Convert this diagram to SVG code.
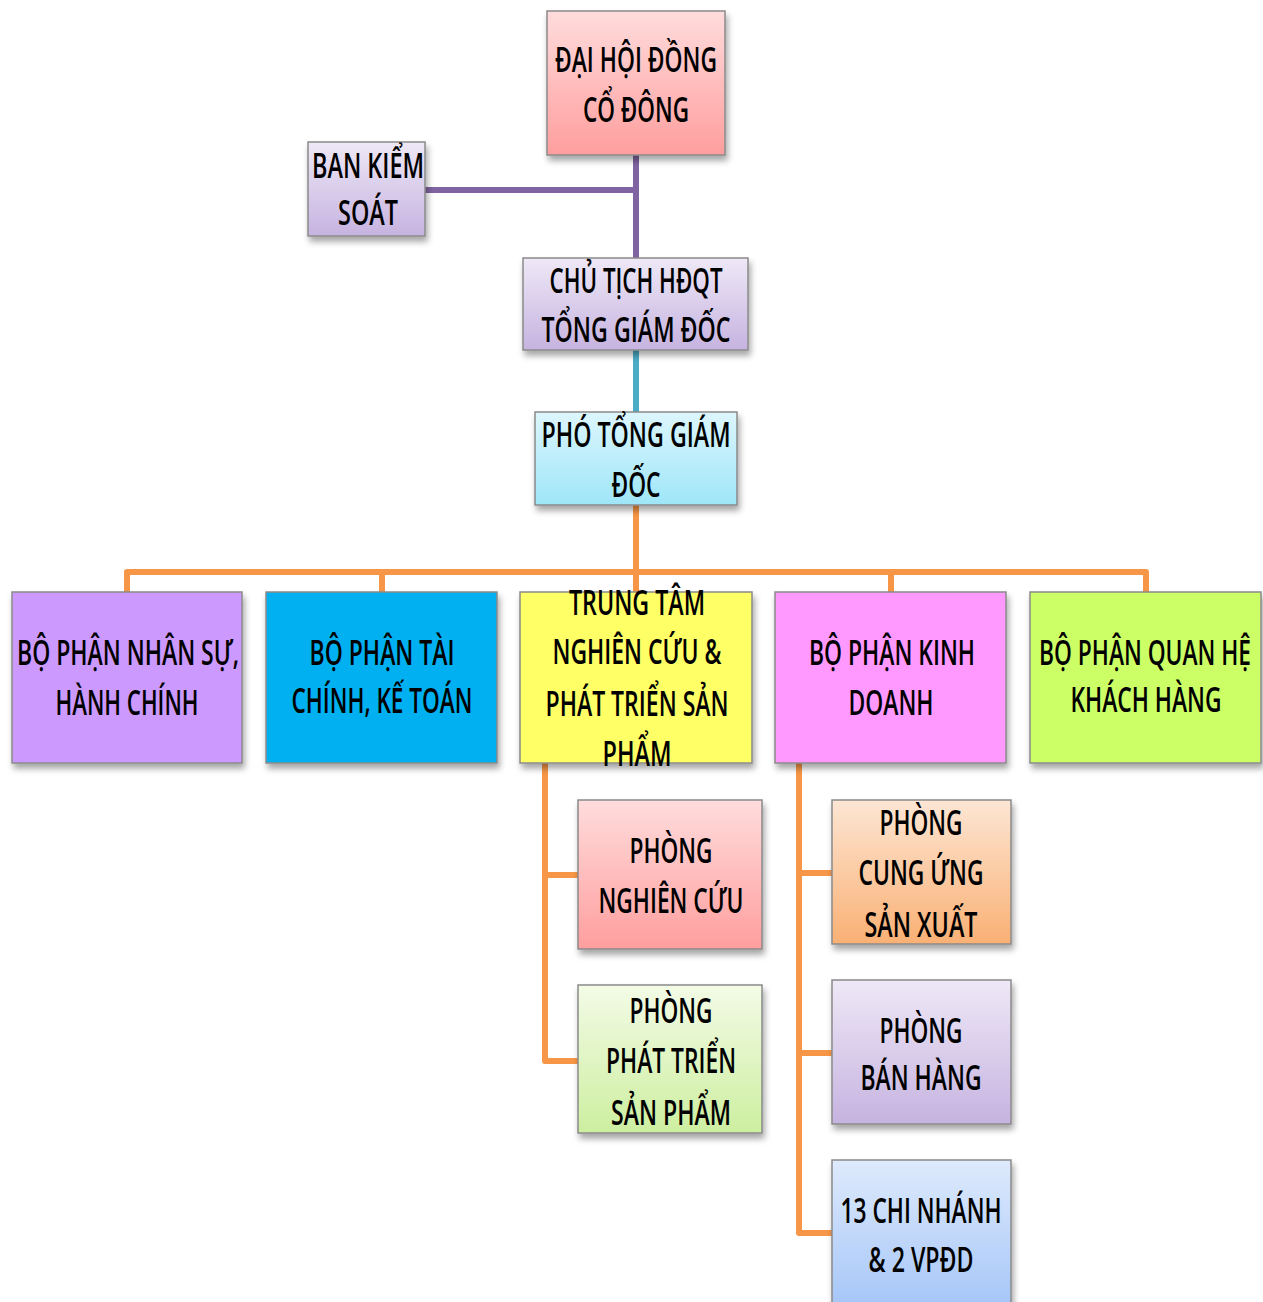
<svg xmlns="http://www.w3.org/2000/svg" width="1263" height="1302" viewBox="0 0 1263 1302">
<style>
.box{stroke:#8a8a8a;stroke-width:1.5;filter:url(#sh)}
.t{font-family:"Open Sans","Liberation Sans",sans-serif;font-size:24px;font-weight:600;fill:#000;text-anchor:middle}
.c{fill:none;stroke-width:6;stroke-linejoin:round;stroke-linecap:butt}
</style>
<defs>
<filter id="sh" x="-10%" y="-10%" width="125%" height="130%">
<feDropShadow dx="2" dy="5" stdDeviation="3" flood-color="#000" flood-opacity="0.35"/>
</filter>
<linearGradient id="gPink" x1="0" y1="0" x2="0" y2="1"><stop offset="0" stop-color="#FFDCDC"/><stop offset="1" stop-color="#FF9E9E"/></linearGradient>
<linearGradient id="gLav" x1="0" y1="0" x2="0" y2="1"><stop offset="0" stop-color="#EEE8F6"/><stop offset="1" stop-color="#C6B3E0"/></linearGradient>
<linearGradient id="gCyan" x1="0" y1="0" x2="0" y2="1"><stop offset="0" stop-color="#DDF6FD"/><stop offset="1" stop-color="#9EE6F8"/></linearGradient>
<linearGradient id="gGreen" x1="0" y1="0" x2="0" y2="1"><stop offset="0" stop-color="#F3FBE6"/><stop offset="1" stop-color="#CDEFA0"/></linearGradient>
<linearGradient id="gOrange" x1="0" y1="0" x2="0" y2="1"><stop offset="0" stop-color="#FDE6D4"/><stop offset="1" stop-color="#F9B074"/></linearGradient>
<linearGradient id="gBlue" x1="0" y1="0" x2="0" y2="1"><stop offset="0" stop-color="#DEEAFC"/><stop offset="1" stop-color="#A6C6F8"/></linearGradient>
</defs>

<g id="connectors">
<path class="c" stroke="#8064A2" d="M636 155 V258 M425 190 H636"/>
<path class="c" stroke="#4BACC6" d="M636 350 V412"/>
<path class="c" stroke="#F79646" d="M636 505 V572 M127 592 V572 H1146 V592 M382 572 V592 M636 572 V592 M891 572 V592"/>
<path class="c" stroke="#F79646" d="M545 763 V1061 H578 M545 875 H578"/>
<path class="c" stroke="#F79646" d="M799 763 V1233 H832 M799 873 H832 M799 1053 H832"/>
</g>

<g id="dai-hoi-dong-co-dong">
<rect class="box" x="547" y="11" width="178" height="144" fill="url(#gPink)"/>
<text class="t" transform="translate(636 72) scale(1 1.4)" textLength="162" lengthAdjust="spacingAndGlyphs">ĐẠI HỘI ĐỒNG</text>
<text class="t" transform="translate(636 122) scale(1 1.4)" textLength="106" lengthAdjust="spacingAndGlyphs">CỔ ĐÔNG</text>
</g>

<g id="ban-kiem-soat">
<rect class="box" x="308" y="142" width="117" height="94" fill="url(#gLav)"/>
<text class="t" transform="translate(368 178) scale(1 1.4)" textLength="112" lengthAdjust="spacingAndGlyphs">BAN KIỂM</text>
<text class="t" transform="translate(368 225) scale(1 1.4)" textLength="60" lengthAdjust="spacingAndGlyphs">SOÁT</text>
</g>

<g id="chu-tich-hdqt">
<rect class="box" x="523" y="258" width="225" height="92" fill="url(#gLav)"/>
<text class="t" transform="translate(636 293) scale(1 1.4)" textLength="173" lengthAdjust="spacingAndGlyphs">CHỦ TỊCH HĐQT</text>
<text class="t" transform="translate(636 342) scale(1 1.4)" textLength="189" lengthAdjust="spacingAndGlyphs">TỔNG GIÁM ĐỐC</text>
</g>

<g id="pho-tong-giam-doc">
<rect class="box" x="535" y="412" width="202" height="93" fill="url(#gCyan)"/>
<text class="t" transform="translate(636 447) scale(1 1.4)" textLength="189" lengthAdjust="spacingAndGlyphs">PHÓ TỔNG GIÁM</text>
<text class="t" transform="translate(636 497) scale(1 1.4)" textLength="49" lengthAdjust="spacingAndGlyphs">ĐỐC</text>
</g>

<g id="bp-nhan-su">
<rect class="box" x="12" y="592" width="230" height="171" fill="#CC99FF"/>
<text class="t" transform="translate(128 665) scale(1 1.4)" textLength="222" lengthAdjust="spacingAndGlyphs">BỘ PHẬN NHÂN SỰ,</text>
<text class="t" transform="translate(127 715) scale(1 1.4)" textLength="143" lengthAdjust="spacingAndGlyphs">HÀNH CHÍNH</text>
</g>

<g id="bp-tai-chinh">
<rect class="box" x="266" y="592" width="231" height="171" fill="#00B0F0"/>
<text class="t" transform="translate(382 665) scale(1 1.4)" textLength="145" lengthAdjust="spacingAndGlyphs">BỘ PHẬN TÀI</text>
<text class="t" transform="translate(382 713) scale(1 1.4)" textLength="181" lengthAdjust="spacingAndGlyphs">CHÍNH, KẾ TOÁN</text>
</g>

<g id="trung-tam-nghien-cuu">
<rect class="box" x="520" y="592" width="232" height="171" fill="#FFFF66"/>
<text class="t" transform="translate(637 615) scale(1 1.4)" textLength="136" lengthAdjust="spacingAndGlyphs">TRUNG TÂM</text>
<text class="t" transform="translate(637 664) scale(1 1.4)" textLength="169" lengthAdjust="spacingAndGlyphs">NGHIÊN CỨU &amp;</text>
<text class="t" transform="translate(637 716) scale(1 1.4)" textLength="183" lengthAdjust="spacingAndGlyphs">PHÁT TRIỂN SẢN</text>
<text class="t" transform="translate(637 766) scale(1 1.4)" textLength="69" lengthAdjust="spacingAndGlyphs">PHẨM</text>
</g>

<g id="bp-kinh-doanh">
<rect class="box" x="775" y="592" width="231" height="171" fill="#FF99FF"/>
<text class="t" transform="translate(892 665) scale(1 1.4)" textLength="166" lengthAdjust="spacingAndGlyphs">BỘ PHẬN KINH</text>
<text class="t" transform="translate(891 715) scale(1 1.4)" textLength="85" lengthAdjust="spacingAndGlyphs">DOANH</text>
</g>

<g id="bp-quan-he-khach-hang">
<rect class="box" x="1030" y="592" width="231" height="171" fill="#CCFF66"/>
<text class="t" transform="translate(1145 665) scale(1 1.4)" textLength="212" lengthAdjust="spacingAndGlyphs">BỘ PHẬN QUAN HỆ</text>
<text class="t" transform="translate(1146 712) scale(1 1.4)" textLength="151" lengthAdjust="spacingAndGlyphs">KHÁCH HÀNG</text>
</g>

<g id="phong-nghien-cuu">
<rect class="box" x="578" y="800" width="184" height="149" fill="url(#gPink)"/>
<text class="t" transform="translate(671 863) scale(1 1.4)" textLength="83" lengthAdjust="spacingAndGlyphs">PHÒNG</text>
<text class="t" transform="translate(671 913) scale(1 1.4)" textLength="145" lengthAdjust="spacingAndGlyphs">NGHIÊN CỨU</text>
</g>

<g id="phong-phat-trien-san-pham">
<rect class="box" x="578" y="985" width="184" height="148" fill="url(#gGreen)"/>
<text class="t" transform="translate(671 1023) scale(1 1.4)" textLength="83" lengthAdjust="spacingAndGlyphs">PHÒNG</text>
<text class="t" transform="translate(671 1073) scale(1 1.4)" textLength="130" lengthAdjust="spacingAndGlyphs">PHÁT TRIỂN</text>
<text class="t" transform="translate(671 1125) scale(1 1.4)" textLength="120" lengthAdjust="spacingAndGlyphs">SẢN PHẨM</text>
</g>

<g id="phong-cung-ung-san-xuat">
<rect class="box" x="832" y="800" width="179" height="144" fill="url(#gOrange)"/>
<text class="t" transform="translate(921 835) scale(1 1.4)" textLength="83" lengthAdjust="spacingAndGlyphs">PHÒNG</text>
<text class="t" transform="translate(921 885) scale(1 1.4)" textLength="125" lengthAdjust="spacingAndGlyphs">CUNG ỨNG</text>
<text class="t" transform="translate(921 937) scale(1 1.4)" textLength="113" lengthAdjust="spacingAndGlyphs">SẢN XUẤT</text>
</g>

<g id="phong-ban-hang">
<rect class="box" x="832" y="980" width="179" height="144" fill="url(#gLav)"/>
<text class="t" transform="translate(921 1043) scale(1 1.4)" textLength="83" lengthAdjust="spacingAndGlyphs">PHÒNG</text>
<text class="t" transform="translate(921 1090) scale(1 1.4)" textLength="121" lengthAdjust="spacingAndGlyphs">BÁN HÀNG</text>
</g>

<g id="chi-nhanh-vpdd">
<rect class="box" x="832" y="1160" width="179" height="146" fill="url(#gBlue)"/>
<text class="t" transform="translate(921 1223) scale(1 1.4)" textLength="161" lengthAdjust="spacingAndGlyphs">13 CHI NHÁNH</text>
<text class="t" transform="translate(921 1272) scale(1 1.4)" textLength="105" lengthAdjust="spacingAndGlyphs">&amp; 2 VPĐD</text>
</g>
</svg>
